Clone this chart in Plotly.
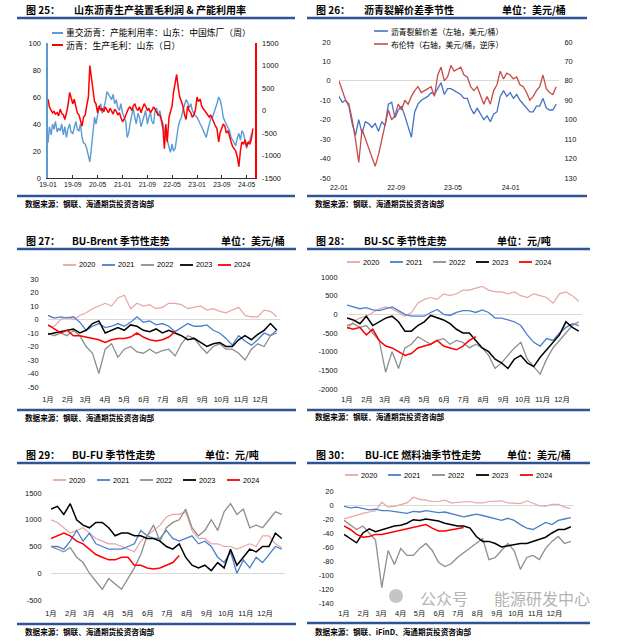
import plotly.graph_objects as go
import pandas as pd

W, H = 620, 641
CJK = "Noto Sans CJK SC"
NUM = "Liberation Sans, Noto Sans CJK SC"

def X(px):
    return px / W

def Y(py):
    return 1 - py / H

# ------------------------------------------------------------------ DATA
# Fig 25: semi-monthly, 2019-01 .. 2024-07
p25_util = [26, 38, 32, 40, 36, 42, 34, 37, 35, 40, 32, 38, 30, 36, 40, 34, 33, 38, 42, 36, 35, 40, 30, 26,
            25, 22, 15, 12, 22, 35, 45, 40, 48, 52, 55, 48, 52, 56, 64, 62, 60, 58, 62, 55, 58, 52, 50, 55,
            48, 45, 42, 30, 33, 40, 48, 52, 45, 40, 48, 45, 38, 42, 45, 50, 40, 45, 48, 42, 40, 50, 52, 46,
            50, 44, 40, 35, 30, 28, 22, 19, 25, 20, 22, 30, 38, 42, 45, 50, 55, 58, 56, 52, 55, 50, 48, 46,
            45, 42, 40, 38, 35, 32, 30, 35, 40, 44, 45, 48, 52, 55, 60, 58, 52, 45, 42, 40, 38, 35, 30, 28,
            26, 24, 30, 33, 28, 35, 33, 28, 22, 26, 28, 32, 34]
p25_margin = [250, 80, 0, -50, -20, -80, -50, -120, 30, -60, -100, -200, -50, 100, 400, 300, 150, 250, 50, -50, -100, -200, -350, -150,
              -100, 100, 300, 1000, 700, 450, 200, 150, -50, 100, 0, 50, -30, 80, 0, -50, 50, 0, -80, 30, -20, -100, -50, -150,
              -250, -200, -100, 0, 50, 80, 0, 100, 150, 50, 0, 80, -50, 50, 150, 100, 0, 50, -50, 0, 80, 30, -50, -100,
              -100, -200, -400, -850, -300, -700, -150, -50, 100, 400, 600, 800, 500, 300, 200, 100, -100, -200, 100, 0, -50, -150, -100, 0,
              300, 200, 250, 100, 50, 0, -50, -100, -150, -100, -200, -250, -350, -400, -700, -500, -400, -300, -350, -500, -450, -600, -700, -800,
              -850, -900, -1050, -1250, -900, -700, -750, -650, -800, -700, -750, -650, -400]
p25_dates = pd.date_range("2019-01-01", periods=len(p25_util), freq="SMS")
p25_ticks = ["2019-01-01", "2019-09-01", "2020-05-01", "2021-01-01", "2021-09-01",
             "2022-05-01", "2023-01-01", "2023-09-01", "2024-05-01"]
p25_ticktext = ["19-01", "19-09", "20-05", "21-01", "21-09", "22-05", "23-01", "23-09", "24-05"]

# Fig 26: every 14 days, 2022-01 .. 2024-07
p26_crack = [-8, -11, -10, -13, -22, -28, -20, -27, -21, -22,
             -24, -22, -26, -21, -23, -12, -11, -19, -15, -13,
             -18, -24, -29, -16, -12, -10, -9, -8, -6, -7,
             -4, -1, -7, -4, -4, -5, -6, -7, -9, -9,
             -14, -17, -14, -17, -20, -18, -21, -17, -16, -8,
             -5, -8, -6, -9, -7, -10, -12, -14, -16, -16,
             -13, -13, -9, -14, -15, -15, -12]
p26_brent = [80, 85, 90, 92, 100, 110, 122, 105, 110, 115,
             120, 124, 118, 110, 102, 95, 100, 98, 92, 95,
             90, 92, 88, 85, 83, 86, 85, 84, 83, 88,
             77, 73, 80, 78, 72, 75, 74, 73, 77, 78,
             83, 85, 83, 88, 92, 88, 92, 85, 82, 75,
             79, 76, 77, 79, 78, 82, 83, 86, 90, 88,
             85, 83, 77, 84, 86, 87, 83]
p26_dates = pd.date_range("2022-01-01", periods=len(p26_crack), freq="14D")
p26_ticks = ["2022-01-01", "2022-09-01", "2023-05-01", "2024-01-01"]
p26_ticktext = ["22-01", "22-09", "23-05", "24-01"]

# Seasonal charts: one value every 10 days of the year
years = ["2020", "2021", "2022", "2023", "2024"]
days = list(range(0, 361, 10))
month_days = [0, 31, 59, 90, 120, 151, 181, 212, 243, 273, 304, 334]
month_labels = ["1月", "2月", "3月", "4月", "5月", "6月", "7月", "8月", "9月", "10月", "11月", "12月"]

# Fig 27 BU-Brent
brent_2020 = [-5, -5, 0, 2, 0, 3, 5, 8, 10, 12, 10, 16, 18, 8, 12, 10, 11, 8, 9, 12, 12, 11, 8, 9, 10, 7, 8, 6, 5, 7, 9, 3, 2, 2, 7, 6, 2]
brent_2021 = [3, 1, 2, 1, 2, -2, -8, -5, -3, -6, -5, -3, -5, -2, 2, -2, -1, -4, -3, -5, -9, -6, -3, -5, -5, -4, -8, -10, -14, -19, -12, -16, -19, -15, -10, -12, -8]
brent_2022 = [-10, -12, -10, -12, -8, -12, -20, -25, -40, -22, -18, -28, -22, -20, -24, -25, -22, -25, -23, -22, -27, -18, -12, -14, -20, -25, -20, -18, -22, -22, -25, -30, -22, -18, -20, -12, -10]
brent_2023 = [-11, -10, -9, -8, -7, -10, -8, -3, -1, -10, -8, -6, -8, -4, -5, -8, -9, -7, -10, -8, -10, -12, -15, -14, -17, -20, -18, -17, -20, -20, -15, -12, -15, -11, -8, -3, -8]
brent_2024 = [-4, -7, -10, -8, -12, -12, -13, -14, -15, -17, -15, -14, -14, -13, -10, -13, -15, -16, -15, -13, -9]

# Fig 28 BU-SC
sc_2020 = [-400, -200, -100, -50, 50, 150, 200, 150, 50, -50, 50, 300, 400, 450, 400, 550, 500, 550, 650, 650, 700, 750, 650, 600, 600, 550, 600, 500, 450, 550, 500, 450, 300, 550, 600, 500, 350]
sc_2021 = [250, 200, 150, 180, 120, 100, 150, 200, 100, 0, -50, -50, -50, 50, 130, 0, -30, 50, 100, 100, 50, 120, 50, -100, -100, -150, -200, -300, -550, -750, -850, -650, -700, -500, -350, -250, -300]
sc_2022 = [-300, -250, -350, -300, -500, -700, -1550, -1000, -1450, -900, -800, -600, -700, -800, -700, -650, -800, -700, -750, -900, -800, -900, -1100, -1450, -1300, -1100, -900, -750, -1200, -1400, -1600, -1200, -900, -700, -500, -300, -200]
sc_2023 = [-100, -150, -250, -50, -300, -200, -100, -50, -200, -450, -450, -300, -200, -30, -100, -150, -250, -400, -500, -500, -700, -900, -1000, -1200, -1300, -1450, -1200, -1100, -1300, -1400, -1150, -950, -750, -550, -200, -350, -450]
sc_2024 = [-350, -400, -350, -550, -400, -700, -850, -900, -1000, -1100, -1050, -900, -850, -800, -700, -850, -900, -950, -850, -700, -600]

# Fig 29 BU-FU
fu_2020 = [1000, 950, 850, 750, 800, 850, 750, 650, 600, 550, 550, 500, 450, 400, 600, 700, 800, 900, 1050, 1100, 1100, 1150, 800, 650, 650, 550, 550, 500, 500, 450, 500, 550, 500, 700, 700, 550, 480]
fu_2021 = [500, 500, 450, 600, 800, 600, 750, 550, 500, 450, 450, 450, 500, 550, 800, 700, 650, 650, 800, 650, 600, 650, 700, 550, 600, 500, 300, 200, 400, 0, 250, 100, 300, 200, 350, 500, 450]
fu_2022 = [500, 450, 400, 480, 300, 200, 0, -150, -300, -100, -200, -300, -100, 100, 350, 700, 900, 600, 850, 950, 1000, 1200, 850, 700, 800, 1000, 800, 1150, 1300, 1100, 1200, 850, 900, 850, 1000, 1150, 1100]
fu_2023 = [1200, 1250, 1100, 1300, 1000, 900, 850, 950, 950, 850, 700, 750, 750, 700, 700, 650, 650, 600, 500, 450, 550, 300, 150, 100, 150, 50, 200, 100, 450, 150, 300, 450, 400, 500, 500, 750, 650]
fu_2024 = [650, 700, 750, 700, 600, 550, 450, 350, 300, 250, 250, 300, 300, 150, 150, 100, 80, 100, 150, 200, 330]

# Fig 30 BU-ICE fuel oil
ice_2020 = [-20, -17, -15, -12, -10, -8, 4, -3, -2, 0, 3, 11, 8, 7, 5, 5, 7, 3, 4, 5, 5, 3, 3, 5, 5, 6, 3, 3, 2, 6, 3, -1, -2, 1, 1, -3, -5]
ice_2021 = [-2, -4, -3, -5, -7, -6, -8, -8, -9, -10, -12, -9, -10, -8, -10, -11, -10, -12, -15, -17, -15, -13, -15, -17, -20, -22, -19, -22, -28, -33, -35, -30, -25, -28, -22, -20, -18]
ice_2022 = [-22, -28, -35, -30, -40, -50, -118, -65, -85, -62, -72, -72, -62, -55, -65, -82, -88, -84, -75, -68, -62, -55, -48, -78, -75, -65, -55, -65, -92, -75, -72, -78, -62, -52, -45, -55, -52]
ice_2023 = [-42, -48, -54, -40, -34, -38, -35, -32, -30, -29, -26, -21, -22, -20, -21, -23, -26, -28, -30, -30, -33, -45, -52, -52, -55, -60, -58, -57, -55, -55, -52, -50, -46, -40, -35, -35, -31]
ice_2024 = [-30, -35, -42, -46, -45, -42, -42, -40, -39, -36, -34, -32, -31, -28, -33, -37, -37, -35, -34, -32]

# ------------------------------------------------------------------ STYLE
year_colors = {"2020": "#E8A5A5", "2021": "#4A7FCB", "2022": "#8E8E8E", "2023": "#000000", "2024": "#FF0000"}
year_widths = {"2020": 1.2, "2021": 1.3, "2022": 1.3, "2023": 1.5, "2024": 1.5}
RULE = "#2F5496"

fig = go.Figure()
shapes = []
annots = []


def hline(x0, x1, y, color, width):
    shapes.append(dict(type="line", xref="paper", yref="paper", x0=X(x0), x1=X(x1),
                       y0=Y(y), y1=Y(y), line=dict(color=color, width=width)))


def text(x, y, s, size, anchor="left", color="#000", family=CJK, opacity=1.0):
    annots.append(dict(xref="paper", yref="paper", x=X(x), y=Y(y), text=s, showarrow=False,
                       xanchor=anchor, yanchor="middle", opacity=opacity,
                       font=dict(size=size, family=family, color=color)))


def frame(x0, x1, ytop, ybot, num, title, unit, unit_right, src, src_y, ttl_x, title_x):
    hline(x0, x1, ytop + 9, RULE, 2.6)
    hline(x0, x1, ybot, RULE, 2.6)
    text(ttl_x, ytop, "<b>图 %s：</b>" % num, 10)
    text(title_x, ytop, "<b>%s</b>" % title, 10)
    if unit:
        text(unit_right, ytop, "<b>%s</b>" % unit, 10, anchor="right")
    text(ttl_x - 1, src_y, "<b>%s</b>" % src, 7.6)


SRC = "数据来源：钢联、海通期货投资咨询部"

# ------------------------------------------------------------------ FIG 25
fig.add_trace(go.Scatter(x=p25_dates, y=p25_util, mode="lines", xaxis="x", yaxis="y",
                         line=dict(color="#5B9BD5", width=1.4), showlegend=False))
fig.add_trace(go.Scatter(x=p25_dates, y=p25_margin, mode="lines", xaxis="x", yaxis="y2",
                         line=dict(color="#FF0000", width=1.5), showlegend=False))
frame(17, 295, 9, 196, "25", "山东沥青生产装置毛利润 & 产能利用率", None, 0, SRC, 203, 24, 72)
hline(52, 63, 33, "#5B9BD5", 2)
text(64, 33, "重交沥青：产能利用率：山东：中国炼厂（周）", 8.8)
hline(52, 63, 45, "#FF0000", 2)
text(64, 45, "沥青：生产毛利：山东（日）", 8.8)

# ------------------------------------------------------------------ FIG 26
fig.add_trace(go.Scatter(x=p26_dates, y=p26_crack, mode="lines", xaxis="x2", yaxis="y3",
                         line=dict(color="#4472C4", width=1.3), showlegend=False))
fig.add_trace(go.Scatter(x=p26_dates, y=p26_brent, mode="lines", xaxis="x2", yaxis="y4",
                         line=dict(color="#C84B4B", width=1.3), showlegend=False))
frame(307, 587, 9, 196, "26", "沥青裂解价差季节性", "单位：美元/桶", 568, SRC, 203, 314, 362)
hline(374, 388, 31, "#4472C4", 1.6)
text(389, 31, "沥青裂解价差（左轴，美元/桶）", 7.8)
hline(374, 388, 44, "#C84B4B", 1.6)
text(389, 44, "布伦特（右轴，美元/桶，逆序）", 7.8)

# ------------------------------------------------------------------ Seasonal panels
seasonal = [
    dict(xa="x3", ya="y5", data=[brent_2020, brent_2021, brent_2022, brent_2023, brent_2024],
         num="27", title="BU-Brent 季节性走势", unit="单位：美元/桶", unit_right=287,
         x0=17, x1=296, ytop=240, ybot=410, src=SRC, src_y=417, ttl_x=24, title_x=70,
         leg_y=265, leg_x=[63, 102, 141, 180, 218]),
    dict(xa="x4", ya="y6", data=[sc_2020, sc_2021, sc_2022, sc_2023, sc_2024],
         num="28", title="BU-SC 季节性走势", unit="单位：元/吨", unit_right=553,
         x0=307, x1=590, ytop=240, ybot=410, src=SRC, src_y=416, ttl_x=314, title_x=362,
         leg_y=262, leg_x=[347, 390, 433, 476, 519]),
    dict(xa="x5", ya="y7", data=[fu_2020, fu_2021, fu_2022, fu_2023, fu_2024],
         num="29", title="BU-FU 季节性走势", unit="单位：元/吨", unit_right=261,
         x0=17, x1=296, ytop=454, ybot=624, src=SRC, src_y=631, ttl_x=24, title_x=70,
         leg_y=480, leg_x=[53, 97, 140, 183, 227]),
    dict(xa="x6", ya="y8", data=[ice_2020, ice_2021, ice_2022, ice_2023, ice_2024],
         num="30", title="BU-ICE 燃料油季节性走势", unit="单位：美元/桶", unit_right=573,
         x0=307, x1=590, ytop=454, ybot=623, src="数据来源：钢联、iFinD、海通期货投资咨询部", src_y=631,
         ttl_x=314, title_x=363, leg_y=475, leg_x=[345, 388, 432, 476, 520]),
]

for p in seasonal:
    for yr, vals in zip(years, p["data"]):
        fig.add_trace(go.Scatter(x=days[:len(vals)], y=vals, mode="lines", xaxis=p["xa"], yaxis=p["ya"],
                                 line=dict(color=year_colors[yr], width=year_widths[yr]), showlegend=False))
    frame(p["x0"], p["x1"], p["ytop"], p["ybot"], p["num"], p["title"], p["unit"], p["unit_right"],
          p["src"], p["src_y"], p["ttl_x"], p["title_x"])
    for yr, lx in zip(years, p["leg_x"]):
        hline(lx, lx + 13, p["leg_y"], year_colors[yr], 1.8)
        text(lx + 14, p["leg_y"], yr, 7.4, family=NUM)

# watermark in the last panel
shapes.append(dict(type="circle", xref="paper", yref="paper", x0=X(389), x1=X(403), y0=Y(603), y1=Y(589),
                   fillcolor="rgba(150,150,150,0.55)", line=dict(width=0)))
text(418, 598, "公众号", 16, color="#9A9A9A", opacity=0.75)
text(492, 598, "能源研发中心", 16, color="#9A9A9A", opacity=0.75)

# ------------------------------------------------------------------ AXES
tickfont = dict(family=NUM, size=7.4, color="#111")


def yticks(lo, hi, step):
    vals = list(range(lo, hi + 1, step))
    return vals, [str(v) for v in vals]


def yax(domain_top, domain_bot, rng, step, anchor, ticklen, **kw):
    tv, tt = yticks(min(rng), max(rng), step)
    d = dict(domain=[Y(domain_bot), Y(domain_top)], range=rng, tickvals=tv, ticktext=tt,
             anchor=anchor, showgrid=False, ticks="outside", ticklen=ticklen,
             tickcolor="rgba(0,0,0,0)", tickfont=tickfont, zeroline=False, fixedrange=True)
    d.update(kw)
    return d


layout = dict(
    width=W, height=H, margin=dict(l=0, r=0, t=0, b=0),
    paper_bgcolor="white", plot_bgcolor="white", template="none", showlegend=False,
    hovermode=False,
    # fig 25
    xaxis=dict(domain=[X(48), X(255)], range=["2019-01-01", "2024-07-22"], anchor="y",
               tickvals=p25_ticks, ticktext=p25_ticktext, showgrid=False, showline=True,
               linecolor="#333", linewidth=1, ticks="inside", ticklen=3, tickcolor="#333",
               tickfont=dict(family=NUM, size=6.8, color="#111"), zeroline=False),
    yaxis=yax(43, 178, [0, 100], 20, "x", 4, showline=True, linecolor="#5B9BD5", linewidth=1.6),
    yaxis2=yax(43, 178, [-1500, 1500], 500, "x", 4, overlaying="y", side="right", showline=True,
               linecolor="#FF0000", linewidth=1.6),
    # fig 26
    xaxis2=dict(domain=[X(339), X(559)], range=["2022-01-01", "2024-07-25"], anchor="y3",
                tickvals=p26_ticks, ticktext=p26_ticktext, showgrid=False, showline=False,
                ticks="outside", ticklen=3, tickcolor="rgba(0,0,0,0)",
                tickfont=dict(family=NUM, size=7, color="#111"), zeroline=False),
    yaxis3=yax(42, 178, [-50, 20], 10, "x2", 6, zeroline=True, zerolinecolor="#D9D9D9", zerolinewidth=1),
    yaxis4=yax(42, 178, [130, 60], 10, "x2", 3, overlaying="y3", side="right"),
)

seasonal_geo = [
    ("xaxis3", "yaxis5", "x3", "y5", 48, 280, 279, 387, [-50, 30], 10, 7, 5),
    ("xaxis4", "yaxis6", "x4", "y6", 347, 582, 277, 389, [-2000, 1000], 500, 7, 3),
    ("xaxis5", "yaxis7", "x5", "y7", 51, 285, 493, 600, [-500, 1500], 500, 7, 6),
    ("xaxis6", "yaxis8", "x6", "y8", 344, 574, 491, 603, [-140, 20], 20, 8, 3),
]
for xn, yn, xr, yr_, x0, x1, yt, yb, rng, step, ylen, xlen in seasonal_geo:
    layout[xn] = dict(domain=[X(x0), X(x1)], range=[0, 365], anchor=yr_, tickvals=month_days,
                      ticktext=month_labels, showgrid=False, showline=False, ticks="outside",
                      ticklen=xlen, tickcolor="rgba(0,0,0,0)", tickfont=tickfont, zeroline=False)
    layout[yn] = yax(yt, yb, rng, step, xr, ylen, zeroline=True, zerolinecolor="#D9D9D9", zerolinewidth=1)

layout["shapes"] = shapes
layout["annotations"] = annots
fig.update_layout(**layout)
fig.write_html("out.html", config={"displayModeBar": False, "staticPlot": True},
               post_script="document.body.style.margin='0px';document.body.style.overflow='hidden';")
